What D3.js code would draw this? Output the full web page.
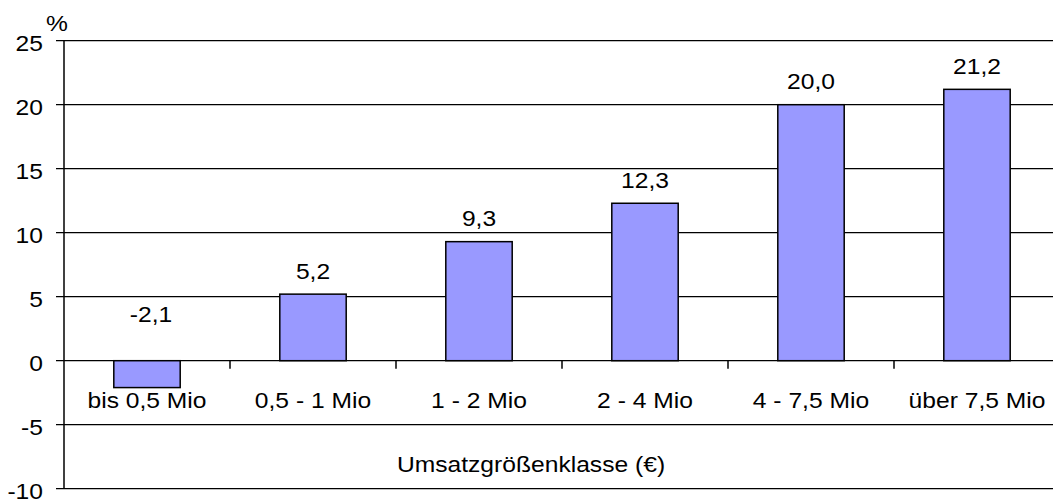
<!DOCTYPE html>
<html>
<head>
<meta charset="utf-8">
<script src="https://cdn.jsdelivr.net/npm/d3@7"></script>
<style>
  body { margin: 0; background: #fff; overflow: hidden; }
  text { font-family: "Liberation Sans", Arial, sans-serif; fill: #000; }
</style>
</head>
<body>
<svg id="chart" width="1053" height="499"></svg>
<script>
// 1: DATA
const categories = ["bis 0,5 Mio", "0,5 - 1 Mio", "1 - 2 Mio", "2 - 4 Mio", "4 - 7,5 Mio", "über 7,5 Mio"];
const values = [-2.1, 5.2, 9.3, 12.3, 20.0, 21.2];
const yTicks = [-10, -5, 0, 5, 10, 15, 20, 25];
const xTitle = "Umsatzgrößenklasse (€)";
const yUnit = "%";

// 2: LAYOUT
const plotLeft = 64, plotRight = 1060, plotTop = 40.7, plotBottom = 488.7;
const fontSize = 22;
const stretch = 1.12; // text in the source is a bit wider than normal

const svg = d3.select("#chart");

const x = d3.scaleBand()
    .domain(categories)
    .range([plotLeft, plotRight])
    .paddingInner(0.6)
    .paddingOuter(0.3);

const y = d3.scaleLinear()
    .domain([-10, 25])
    .range([plotBottom, plotTop]);

// helper: stretched text
function label(g, tx, ty, str, anchor) {
    return g.append("text")
        .attr("transform", `translate(${tx},${ty}) scale(${stretch},1)`)
        .attr("text-anchor", anchor || "middle")
        .style("font-size", fontSize + "px")
        .text(str);
}

// 3: GRID + Y AXIS
svg.selectAll("line.grid")
    .data(yTicks)
    .enter()
    .append("line")
    .attr("class", "grid")
    .attr("x1", plotLeft - 8)
    .attr("x2", 1053)
    .attr("y1", d => y(d))
    .attr("y2", d => y(d))
    .attr("stroke", "#000")
    .attr("stroke-width", 1.3);

svg.append("line")
    .attr("x1", plotLeft).attr("x2", plotLeft)
    .attr("y1", y(25)).attr("y2", y(-10))
    .attr("stroke", "#000")
    .attr("stroke-width", 1.5);

yTicks.forEach(t => {
    label(svg, 43, y(t) + 10, String(t), "end");
});

label(svg, 57, 31, yUnit);

// 4: BARS
svg.selectAll("rect.bar")
    .data(values)
    .enter()
    .append("rect")
    .attr("class", "bar")
    .attr("x", (d, i) => x(categories[i]))
    .attr("width", x.bandwidth())
    .attr("y", d => y(Math.max(d, 0)))
    .attr("height", d => Math.abs(y(d) - y(0)))
    .attr("fill", "#9999ff")
    .attr("stroke", "#000")
    .attr("stroke-width", 1.5);

// value labels
values.forEach((v, i) => {
    const cx = x(categories[i]) + x.bandwidth() / 2;
    const ty = v >= 0 ? y(v) - 15.5 : y(0) - 39;
    label(svg, cx + (v < 0 ? 4 : 0), ty, v.toFixed(1).replace(".", ","));
});

// 5: X AXIS (zero line ticks + labels)
const step = x.step();
categories.forEach((c, i) => {
    const bx = x(c) + x.bandwidth() / 2 + step / 2;
    svg.append("line")
        .attr("x1", bx).attr("x2", bx)
        .attr("y1", y(0)).attr("y2", y(0) + 8)
        .attr("stroke", "#000")
        .attr("stroke-width", 1.5);
    label(svg, x(c) + x.bandwidth() / 2, 408, c);
});

label(svg, 531, 472, xTitle);
</script>
</body>
</html>
